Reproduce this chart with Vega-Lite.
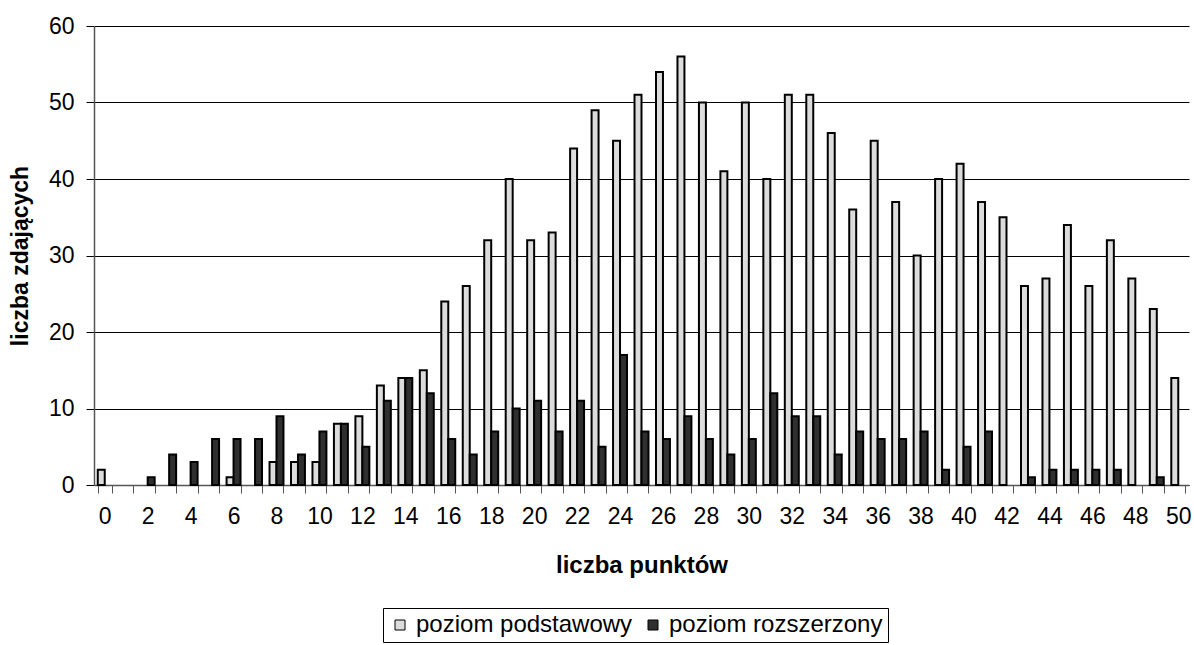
{
  "$schema": "https://vega.github.io/schema/vega-lite/v6.json",
  "autosize": {"type": "none"},
  "width": 1095,
  "height": 459,
  "padding": {"left": 94, "top": 26, "right": 5, "bottom": 160},
  "background": "white",
  "config": {
    "font": "Liberation Sans",
    "view": {"stroke": null}
  },
  "data": {
    "values": [
      {"p": 0, "s": "poziom podstawowy", "n": 2}, {"p": 0, "s": "poziom rozszerzony", "n": 0},
      {"p": 1, "s": "poziom podstawowy", "n": 0}, {"p": 1, "s": "poziom rozszerzony", "n": 0},
      {"p": 2, "s": "poziom podstawowy", "n": 0}, {"p": 2, "s": "poziom rozszerzony", "n": 1},
      {"p": 3, "s": "poziom podstawowy", "n": 0}, {"p": 3, "s": "poziom rozszerzony", "n": 4},
      {"p": 4, "s": "poziom podstawowy", "n": 0}, {"p": 4, "s": "poziom rozszerzony", "n": 3},
      {"p": 5, "s": "poziom podstawowy", "n": 0}, {"p": 5, "s": "poziom rozszerzony", "n": 6},
      {"p": 6, "s": "poziom podstawowy", "n": 1}, {"p": 6, "s": "poziom rozszerzony", "n": 6},
      {"p": 7, "s": "poziom podstawowy", "n": 0}, {"p": 7, "s": "poziom rozszerzony", "n": 6},
      {"p": 8, "s": "poziom podstawowy", "n": 3}, {"p": 8, "s": "poziom rozszerzony", "n": 9},
      {"p": 9, "s": "poziom podstawowy", "n": 3}, {"p": 9, "s": "poziom rozszerzony", "n": 4},
      {"p": 10, "s": "poziom podstawowy", "n": 3}, {"p": 10, "s": "poziom rozszerzony", "n": 7},
      {"p": 11, "s": "poziom podstawowy", "n": 8}, {"p": 11, "s": "poziom rozszerzony", "n": 8},
      {"p": 12, "s": "poziom podstawowy", "n": 9}, {"p": 12, "s": "poziom rozszerzony", "n": 5},
      {"p": 13, "s": "poziom podstawowy", "n": 13}, {"p": 13, "s": "poziom rozszerzony", "n": 11},
      {"p": 14, "s": "poziom podstawowy", "n": 14}, {"p": 14, "s": "poziom rozszerzony", "n": 14},
      {"p": 15, "s": "poziom podstawowy", "n": 15}, {"p": 15, "s": "poziom rozszerzony", "n": 12},
      {"p": 16, "s": "poziom podstawowy", "n": 24}, {"p": 16, "s": "poziom rozszerzony", "n": 6},
      {"p": 17, "s": "poziom podstawowy", "n": 26}, {"p": 17, "s": "poziom rozszerzony", "n": 4},
      {"p": 18, "s": "poziom podstawowy", "n": 32}, {"p": 18, "s": "poziom rozszerzony", "n": 7},
      {"p": 19, "s": "poziom podstawowy", "n": 40}, {"p": 19, "s": "poziom rozszerzony", "n": 10},
      {"p": 20, "s": "poziom podstawowy", "n": 32}, {"p": 20, "s": "poziom rozszerzony", "n": 11},
      {"p": 21, "s": "poziom podstawowy", "n": 33}, {"p": 21, "s": "poziom rozszerzony", "n": 7},
      {"p": 22, "s": "poziom podstawowy", "n": 44}, {"p": 22, "s": "poziom rozszerzony", "n": 11},
      {"p": 23, "s": "poziom podstawowy", "n": 49}, {"p": 23, "s": "poziom rozszerzony", "n": 5},
      {"p": 24, "s": "poziom podstawowy", "n": 45}, {"p": 24, "s": "poziom rozszerzony", "n": 17},
      {"p": 25, "s": "poziom podstawowy", "n": 51}, {"p": 25, "s": "poziom rozszerzony", "n": 7},
      {"p": 26, "s": "poziom podstawowy", "n": 54}, {"p": 26, "s": "poziom rozszerzony", "n": 6},
      {"p": 27, "s": "poziom podstawowy", "n": 56}, {"p": 27, "s": "poziom rozszerzony", "n": 9},
      {"p": 28, "s": "poziom podstawowy", "n": 50}, {"p": 28, "s": "poziom rozszerzony", "n": 6},
      {"p": 29, "s": "poziom podstawowy", "n": 41}, {"p": 29, "s": "poziom rozszerzony", "n": 4},
      {"p": 30, "s": "poziom podstawowy", "n": 50}, {"p": 30, "s": "poziom rozszerzony", "n": 6},
      {"p": 31, "s": "poziom podstawowy", "n": 40}, {"p": 31, "s": "poziom rozszerzony", "n": 12},
      {"p": 32, "s": "poziom podstawowy", "n": 51}, {"p": 32, "s": "poziom rozszerzony", "n": 9},
      {"p": 33, "s": "poziom podstawowy", "n": 51}, {"p": 33, "s": "poziom rozszerzony", "n": 9},
      {"p": 34, "s": "poziom podstawowy", "n": 46}, {"p": 34, "s": "poziom rozszerzony", "n": 4},
      {"p": 35, "s": "poziom podstawowy", "n": 36}, {"p": 35, "s": "poziom rozszerzony", "n": 7},
      {"p": 36, "s": "poziom podstawowy", "n": 45}, {"p": 36, "s": "poziom rozszerzony", "n": 6},
      {"p": 37, "s": "poziom podstawowy", "n": 37}, {"p": 37, "s": "poziom rozszerzony", "n": 6},
      {"p": 38, "s": "poziom podstawowy", "n": 30}, {"p": 38, "s": "poziom rozszerzony", "n": 7},
      {"p": 39, "s": "poziom podstawowy", "n": 40}, {"p": 39, "s": "poziom rozszerzony", "n": 2},
      {"p": 40, "s": "poziom podstawowy", "n": 42}, {"p": 40, "s": "poziom rozszerzony", "n": 5},
      {"p": 41, "s": "poziom podstawowy", "n": 37}, {"p": 41, "s": "poziom rozszerzony", "n": 7},
      {"p": 42, "s": "poziom podstawowy", "n": 35}, {"p": 42, "s": "poziom rozszerzony", "n": 0},
      {"p": 43, "s": "poziom podstawowy", "n": 26}, {"p": 43, "s": "poziom rozszerzony", "n": 1},
      {"p": 44, "s": "poziom podstawowy", "n": 27}, {"p": 44, "s": "poziom rozszerzony", "n": 2},
      {"p": 45, "s": "poziom podstawowy", "n": 34}, {"p": 45, "s": "poziom rozszerzony", "n": 2},
      {"p": 46, "s": "poziom podstawowy", "n": 26}, {"p": 46, "s": "poziom rozszerzony", "n": 2},
      {"p": 47, "s": "poziom podstawowy", "n": 32}, {"p": 47, "s": "poziom rozszerzony", "n": 2},
      {"p": 48, "s": "poziom podstawowy", "n": 27}, {"p": 48, "s": "poziom rozszerzony", "n": 0},
      {"p": 49, "s": "poziom podstawowy", "n": 23}, {"p": 49, "s": "poziom rozszerzony", "n": 1},
      {"p": 50, "s": "poziom podstawowy", "n": 14}, {"p": 50, "s": "poziom rozszerzony", "n": 0}
    ]
  },
  "mark": {"type": "bar", "stroke": "black", "strokeWidth": 2},
  "encoding": {
    "x": {
      "field": "p",
      "type": "ordinal",
      "scale": {"paddingInner": 0.35, "paddingOuter": 0.175},
      "axis": {
        "title": "liczba punktów",
        "titleFontSize": 24,
        "titleFontWeight": "bold",
        "titleColor": "black",
        "titlePadding": 25,
        "labelAngle": 0,
        "labelFontSize": 23,
        "labelColor": "black",
        "labelPadding": 12,
        "labelExpr": "datum.value % 2 == 0 ? datum.label : ''",
        "tickBand": "extent",
        "tickSize": 8,
        "tickColor": "#555555",
        "domainColor": "#555555",
        "domainWidth": 1.5,
        "grid": false
      }
    },
    "xOffset": {
      "field": "s",
      "type": "nominal",
      "sort": ["poziom podstawowy", "poziom rozszerzony"],
      "scale": {"paddingInner": 0, "paddingOuter": 0}
    },
    "y": {
      "field": "n",
      "type": "quantitative",
      "scale": {"domain": [0, 60], "nice": false},
      "axis": {
        "title": "liczba zdających",
        "titleFontSize": 23,
        "titleFontWeight": "bold",
        "titleColor": "black",
        "titlePadding": 16,
        "values": [0, 10, 20, 30, 40, 50, 60],
        "labelFontSize": 23,
        "labelColor": "black",
        "labelPadding": 12,
        "tickSize": 8,
        "tickColor": "black",
        "domainColor": "#555555",
        "domainWidth": 1.5,
        "grid": true,
        "gridColor": "black",
        "gridWidth": 1
      }
    },
    "opacity": {"condition": {"test": "datum.n == 0", "value": 0}, "value": 1},
    "color": {
      "field": "s",
      "type": "nominal",
      "scale": {"domain": ["poziom podstawowy", "poziom rozszerzony"], "range": ["#dcdcdc", "#2f2f2f"]},
      "legend": {
        "title": null,
        "orient": "none",
        "direction": "horizontal",
        "legendX": 289,
        "legendY": 582,
        "strokeColor": "black",
        "padding": 5,
        "labelFontSize": 24,
        "labelLimit": 0,
        "labelColor": "black",
        "labelOffset": 4,
        "columnPadding": 8,
        "symbolType": "square",
        "symbolSize": 100,
        "symbolOpacity": 1,
        "symbolStrokeColor": "black",
        "symbolStrokeWidth": 1
      }
    }
  }
}
